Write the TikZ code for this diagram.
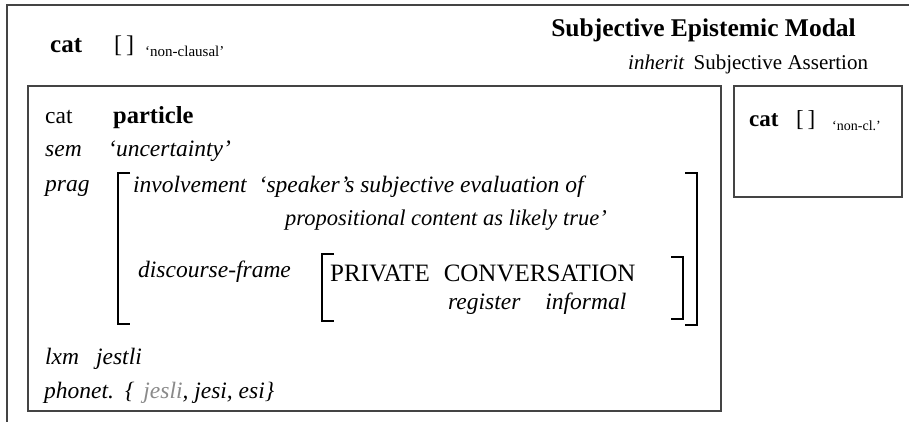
\documentclass[tikz,border=0pt]{standalone}
\usepackage{fontspec}
\setmainfont{Liberation Serif}
\definecolor{framegray}{HTML}{444444}
\definecolor{softgray}{HTML}{8A8A8A}
\begin{document}
\begin{tikzpicture}[x=1pt,y=-1pt,
  txt/.style={anchor=base west, inner sep=0pt, font=\fontsize{23.5}{27}\selectfont},
  txtr/.style={anchor=base east, inner sep=0pt, font=\fontsize{22.5}{27}\selectfont},
  smalltxt/.style={anchor=base west, inner sep=0pt, font=\fontsize{15}{17}\selectfont},
  titletxt/.style={anchor=base east, inner sep=0pt, font=\fontsize{25.5}{29}\selectfont\bfseries},
  capstxt/.style={anchor=base west, inner sep=0pt, font=\fontsize{25}{29}\selectfont},
  boxline/.style={draw=framegray, line width=1.4pt},
  brk/.style={draw=black, line width=1.1pt}]
\useasboundingbox (0,0) rectangle (909,422);
% outer (cropped) frame
\draw[boxline] (7,422) -- (7,5) -- (909,5);
% boxes
\draw[boxline] (28,86) rectangle (721,411);
\draw[boxline] (734,86) rectangle (902,197);
% top left
\node[txt, font=\fontsize{25}{28}\selectfont\bfseries] (tcat) at (50,53) {cat};
\node[txt, font=\fontsize{24}{28}\selectfont] (tbr) at (114,53) {[\,]};
\node[smalltxt] (tnc) at (145,57) {‘non-clausal’};
% title
\node[titletxt] (title) at (856,37) {Subjective Epistemic Modal};
\node[txt, font=\fontsize{21}{25}\selectfont] (inh) at (628,70) {\textit{inherit}\hspace{9pt}Subjective Assertion};
% small box
\node[txt, font=\fontsize{23}{27}\selectfont\bfseries] (scat) at (749,127) {cat};
\node[txt, font=\fontsize{23}{27}\selectfont] (sbr) at (796,127) {[\,]};
\node[smalltxt, font=\fontsize{14}{17}\selectfont] (snc) at (832,131) {‘non-cl.’};
% big box content
\node[txt] (bcat) at (45,124) {cat};
\node[txt] (part) at (113,124) {\fontsize{24.5}{29}\selectfont\textbf{particle}};
\node[txt] (sem) at (45,157) {\itshape sem};
\node[txt] (unc) at (108,157) {\itshape ‘uncertainty’};
\node[txt] (prag) at (45,191) {\itshape prag};
\node[txt] (inv) at (133,193) {\itshape involvement\hspace{12pt}‘speaker’s subjective evaluation of};
\node[txtr] (prop) at (607,225) {\itshape propositional content as likely true’};
\node[txt] (disc) at (138,277) {\itshape discourse-frame};
\node[capstxt] (priv) at (330,281) {PRIVATE\hspace{14pt}CONVERSATION};
\node[txt] (reg) at (448,309) {\itshape register\hspace{25pt}informal};
\node[txt] (lxm) at (45,364) {\itshape lxm\hspace{17pt}jestli};
\node[txt] (phon) at (44,398) {\itshape phonet.\hspace{11pt}\{\hspace{9pt}\textcolor{softgray}{jesli}, jesi, esi\}};
% brackets
\draw[brk] (130,173) -- (118,173) -- (118,324) -- (130,324);
\draw[brk] (685,173) -- (697,173) -- (697,325) -- (685,325);
\draw[brk] (334,254) -- (322,254) -- (322,321) -- (334,321);
\draw[brk] (671,257) -- (683,257) -- (683,319) -- (671,319);
\end{tikzpicture}
\end{document}
